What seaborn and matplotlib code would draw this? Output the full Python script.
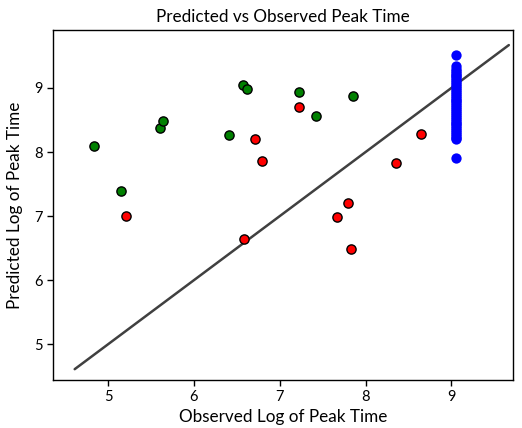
import matplotlib
matplotlib.use("Agg")
import matplotlib.pyplot as plt
import seaborn as sns
import pandas as pd

# Green group
green_x = [4.83, 5.15, 5.60, 5.64, 6.41, 6.57, 6.62, 7.23, 7.42, 7.85]
green_y = [8.09, 7.39, 8.38, 8.49, 8.26, 9.04, 8.99, 8.93, 8.57, 8.87]
# Red group
red_x = [5.21, 6.58, 6.71, 6.79, 7.23, 7.67, 7.79, 7.83, 8.35, 8.65]
red_y = [7.00, 6.64, 8.20, 7.86, 8.71, 6.98, 7.20, 6.49, 7.83, 8.28]
# Blue group (all at the same observed value)
blue_x_value = 9.05
blue_y = [9.51, 9.34, 9.30, 9.27, 9.24, 9.21, 9.18, 9.15, 9.12, 9.09, 9.06,
          9.03, 9.00, 8.97, 8.94, 8.91, 8.88, 8.85, 8.82, 8.79, 8.76, 8.73,
          8.70, 8.67, 8.64, 8.61, 8.58, 8.55, 8.52, 8.49, 8.46, 8.43, 8.40,
          8.37, 8.34, 8.31, 8.28, 8.25, 8.22, 8.20, 7.90]
line_ends = [4.61, 9.67]

x_ticks = [5, 6, 7, 8, 9]
y_ticks = [5, 6, 7, 8, 9]

sns.set_style("white")
plt.rcParams['font.family'] = ['Lato', 'DejaVu Sans']

df_g = pd.DataFrame({"obs": green_x, "pred": green_y})
df_r = pd.DataFrame({"obs": red_x, "pred": red_y})
df_b = pd.DataFrame({"obs": [blue_x_value] * len(blue_y), "pred": blue_y})

fig, ax = plt.subplots(figsize=(5.22, 4.28), dpi=100)
fig.subplots_adjust(left=0.102, right=0.983, top=0.93, bottom=0.112)

ax.plot(line_ends, line_ends, color="#404040", lw=1.8, zorder=1)
sns.scatterplot(data=df_g, x="obs", y="pred", color="green", edgecolor="black",
                linewidth=1, s=44, ax=ax, zorder=3)
sns.scatterplot(data=df_r, x="obs", y="pred", color="red", edgecolor="black",
                linewidth=1, s=44, ax=ax, zorder=3)
sns.scatterplot(data=df_b, x="obs", y="pred", color="blue", edgecolor="blue",
                linewidth=0, s=55, ax=ax, zorder=3)

ax.set_xlim(4.36, 9.72)
ax.set_ylim(4.44, 9.906)
ax.set_xticks(x_ticks)
ax.set_yticks(y_ticks)
ax.tick_params(axis="both", direction="out", length=4, width=1, labelsize=10.5,
               bottom=True, left=True, color="black", labelcolor="black")
for sp in ax.spines.values():
    sp.set_color("black")
    sp.set_linewidth(1)

ax.set_title("Predicted vs Observed Peak Time", fontsize=12.3, color="black")
ax.set_xlabel("Observed Log of Peak Time", fontsize=12.3, labelpad=3, color="black")
ax.set_ylabel("Predicted Log of Peak Time", fontsize=12.3, labelpad=8, color="black")

fig.savefig("out.png", dpi=100)
